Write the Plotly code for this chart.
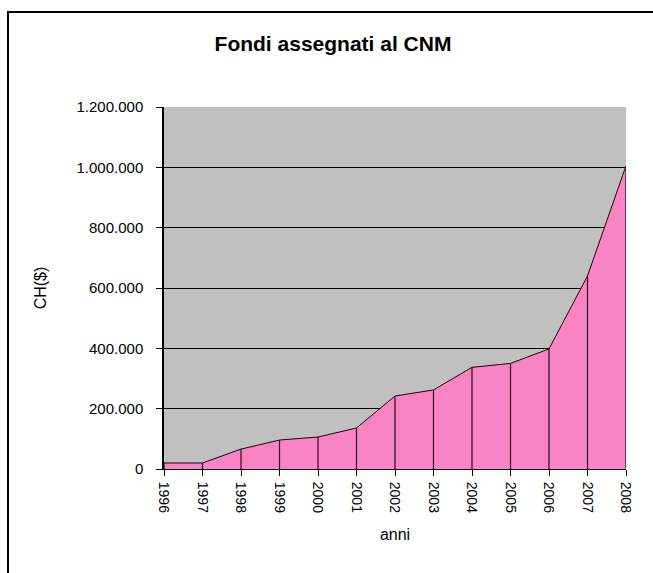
import plotly.graph_objects as go

years = [1996, 1997, 1998, 1999, 2000, 2001, 2002, 2003, 2004, 2005, 2006, 2007, 2008]
fondi = [20000, 20000, 66000, 96000, 106000, 136000, 242000, 262000, 337000, 350000, 398000, 640000, 1005000]
y_ticks = [0, 200000, 400000, 600000, 800000, 1000000, 1200000]

FONT = "Liberation Sans, Arial, sans-serif"

# drop lines built from the data
drop_x, drop_y = [], []
for x, v in zip(years, fondi):
    drop_x += [x, x, None]
    drop_y += [0, v, None]

fig = go.Figure()
fig.add_trace(go.Scatter(
    x=years, y=fondi, mode="lines", fill="tozeroy",
    fillcolor="#f984c3", line=dict(color="#1a0010", width=1),
    hoverinfo="skip", showlegend=False,
))
fig.add_trace(go.Scatter(
    x=drop_x, y=drop_y, mode="lines",
    line=dict(color="#2a0818", width=1.2),
    hoverinfo="skip", showlegend=False,
))

fig.update_layout(
    width=653, height=573,
    margin=dict(l=164, r=27, t=107, b=104),
    paper_bgcolor="white", plot_bgcolor="#c0c0c0",
    separators=",.",
    font=dict(family=FONT, color="black"),
    title=dict(text="<b>Fondi assegnati al CNM</b>", x=333 / 653, xref="container",
               xanchor="center", y=1 - 44 / 573, yref="container", yanchor="middle",
               font=dict(size=21, family=FONT, color="black")),
    showlegend=False,
)
fig.update_xaxes(
    type="linear", range=[years[0], years[-1]],
    tickmode="array", tickvals=years, ticktext=[str(y) for y in years],
    tickangle=90, tickfont=dict(size=14, family=FONT, color="black"),
    ticks="outside", ticklen=6, tickcolor="black", tickwidth=1,
    ticklabelstandoff=3,
    showgrid=False, showline=True, linecolor="black", linewidth=1,
    zeroline=False,
    title=dict(text="anni", font=dict(size=16, family=FONT, color="black"), standoff=16),
)
fig.update_yaxes(
    range=[0, 1200000], tickmode="array", tickvals=y_ticks, tickformat=",.0f",
    tickfont=dict(size=15, family=FONT, color="black"),
    ticks="outside", ticklen=6, tickcolor="black", tickwidth=1,
    ticklabelstandoff=10,
    showgrid=True, gridcolor="black", gridwidth=1,
    showline=True, linecolor="black", linewidth=1.5,
    zeroline=False,
    title=dict(text="CH($)", font=dict(size=16, family=FONT, color="black"), standoff=26),
)

# chart-area border (extends beyond the visible window on right and bottom)
px_l, px_r, px_t, px_b = 164, 626, 107, 469
def fx(p):
    return (p - px_l) / (px_r - px_l)
def fy(p):
    return (px_b - p) / (px_b - px_t)
fig.add_shape(type="rect", xref="paper", yref="paper",
              x0=fx(8), x1=fx(670), y0=fy(590), y1=fy(12),
              line=dict(color="black", width=2), fillcolor="rgba(0,0,0,0)", layer="above")

fig.write_html("out.html")
